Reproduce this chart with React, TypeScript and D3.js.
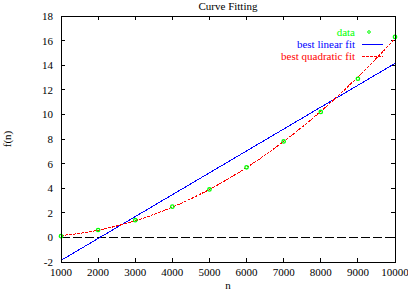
import * as d3 from 'd3';
import { useEffect, useRef } from 'react';

const nValues = [1000, 2000, 3000, 4000, 5000, 6000, 7000, 8000, 9000, 10000];
const fValues = [0.1, 0.6, 1.4, 2.5, 3.9, 5.7, 7.8, 10.2, 12.9, 16.3];
const xTicks = [1000, 2000, 3000, 4000, 5000, 6000, 7000, 8000, 9000, 10000];
const yTicks = [-2, 0, 2, 4, 6, 8, 10, 12, 14, 16, 18];
const legendItems = ['data', 'best linear fit', 'best quadratic fit'];

// least squares polynomial fit (degree 1 or 2) through the data
function polyFit(xs: number[], ys: number[], deg: number) {
  const m = deg + 1;
  const A: number[][] = [];
  for (let r = 0; r < m; r++) {
    A.push([]);
    for (let c = 0; c < m; c++) A[r].push(d3.sum(xs, (x) => Math.pow(x / 1000, r + c)));
    A[r].push(d3.sum(xs, (x, i) => ys[i] * Math.pow(x / 1000, r)));
  }
  for (let i = 0; i < m; i++) {
    for (let k = i + 1; k < m; k++) {
      const f = A[k][i] / A[i][i];
      for (let c = i; c <= m; c++) A[k][c] -= f * A[i][c];
    }
  }
  const coef = new Array(m).fill(0);
  for (let i = m - 1; i >= 0; i--) {
    let s = A[i][m];
    for (let c = i + 1; c < m; c++) s -= A[i][c] * coef[c];
    coef[i] = s / A[i][i];
  }
  return (x: number) => coef.reduce((acc, a, p) => acc + a * Math.pow(x / 1000, p), 0);
}

function App() {
  const ref = useRef<SVGSVGElement>(null);

  useEffect(() => {
    const W = 408;
    const H = 291;
    const margin = { left: 61, top: 16, right: 13, bottom: 29 };
    const w = W - margin.left - margin.right;
    const h = H - margin.top - margin.bottom;
    const font = '"Liberation Serif", "Times New Roman", serif';

    const root = d3.select(ref.current);
    root.selectAll('*').remove();
    const svg = root.append('g').attr('transform', `translate(${margin.left},${margin.top})`);

    const x = d3.scaleLinear().domain([1000, 10000]).range([0, w]);
    const y = d3.scaleLinear().domain([-2, 18]).range([h, 0]);

    // zero axis
    svg.append('line')
      .attr('x1', 0).attr('x2', w)
      .attr('y1', y(0)).attr('y2', y(0))
      .attr('stroke', 'black')
      .attr('shape-rendering', 'crispEdges')
      .attr('stroke-dasharray', '9,3');

    // ticks, mirrored, inward
    const tl = 4;
    const g = svg.append('g').attr('stroke', 'black').attr('stroke-width', 1)
      .attr('shape-rendering', 'crispEdges');
    xTicks.forEach((t) => {
      g.append('line').attr('x1', x(t)).attr('x2', x(t)).attr('y1', h).attr('y2', h - tl);
      g.append('line').attr('x1', x(t)).attr('x2', x(t)).attr('y1', 0).attr('y2', tl);
    });
    yTicks.forEach((t) => {
      g.append('line').attr('x1', 0).attr('x2', tl).attr('y1', y(t)).attr('y2', y(t));
      g.append('line').attr('x1', w).attr('x2', w - tl).attr('y1', y(t)).attr('y2', y(t));
    });

    svg.append('g').selectAll('text')
      .data(xTicks)
      .enter()
      .append('text')
      .attr('x', (d) => x(d))
      .attr('y', h + 14)
      .attr('text-anchor', 'middle')
      .attr('font-family', font)
      .attr('font-size', 11)
      .text((d) => String(d));

    svg.append('g').selectAll('text')
      .data(yTicks)
      .enter()
      .append('text')
      .attr('x', -8)
      .attr('y', (d) => y(d) + 4)
      .attr('text-anchor', 'end')
      .attr('font-family', font)
      .attr('font-size', 11)
      .text((d) => String(d));

    // fits
    const lin = polyFit(nValues, fValues, 1);
    const quad = polyFit(nValues, fValues, 2);
    const xs = d3.range(1000, 10001, 50);

    svg.append('path')
      .attr('d', d3.line<number>().x((d) => x(d)).y((d) => y(lin(d)))(xs))
      .attr('fill', 'none')
      .attr('stroke', '#0000ff')
      .attr('stroke-width', 1)
      .attr('shape-rendering', 'crispEdges');

    svg.append('path')
      .attr('d', d3.line<number>().x((d) => x(d)).y((d) => y(quad(d)))(xs))
      .attr('fill', 'none')
      .attr('stroke', '#ff0000')
      .attr('stroke-width', 1)
      .attr('shape-rendering', 'crispEdges')
      .attr('stroke-dasharray', '3,1');

    // data points
    const pts = svg.append('g').attr('stroke', '#00ff00').attr('fill', 'none').attr('stroke-width', 1.3);
    nValues.forEach((n, i) => {
      pts.append('circle').attr('cx', x(n)).attr('cy', y(fValues[i])).attr('r', 1.7);
    });

    // frame
    svg.append('rect')
      .attr('width', w).attr('height', h)
      .attr('fill', 'none').attr('stroke', 'black')
      .attr('shape-rendering', 'crispEdges');

    // legend
    const colors = ['#00ff00', '#0000ff', '#ff0000'];
    const leg = svg.append('g');
    legendItems.forEach((d, i) => {
      const ly = 16 + i * 12;
      leg.append('text')
        .attr('x', 294)
        .attr('y', ly + 4)
        .attr('text-anchor', 'end')
        .attr('font-family', font)
        .attr('font-size', 11)
        .attr('fill', colors[i])
        .text(d);
      if (i === 0) {
        leg.append('circle').attr('cx', 308).attr('cy', ly).attr('r', 1.3)
          .attr('fill', 'none').attr('stroke', colors[i]);
      } else {
        leg.append('line')
          .attr('x1', 301).attr('x2', 322)
          .attr('y1', ly).attr('y2', ly)
          .attr('stroke', colors[i])
          .attr('shape-rendering', 'crispEdges')
          .attr('stroke-dasharray', i === 2 ? '3,1' : null);
      }
    });

    // title & axis labels
    root.append('text')
      .attr('x', margin.left + w / 2)
      .attr('y', 10)
      .attr('text-anchor', 'middle')
      .attr('font-family', font)
      .attr('font-size', 11)
      .text('Curve Fitting');

    root.append('text')
      .attr('x', margin.left + w / 2)
      .attr('y', 289)
      .attr('text-anchor', 'middle')
      .attr('font-family', font)
      .attr('font-size', 11)
      .text('n');

    root.append('text')
      .attr('transform', `translate(11,${margin.top + h / 2}) rotate(-90)`)
      .attr('text-anchor', 'middle')
      .attr('font-family', font)
      .attr('font-size', 11)
      .text('f(n)');
  }, []);

  return (
    <svg
      ref={ref}
      width={408}
      height={291}
      style={{ position: 'absolute', left: 0, top: 0, background: 'white' }}
    />
  );
}

export default App;
